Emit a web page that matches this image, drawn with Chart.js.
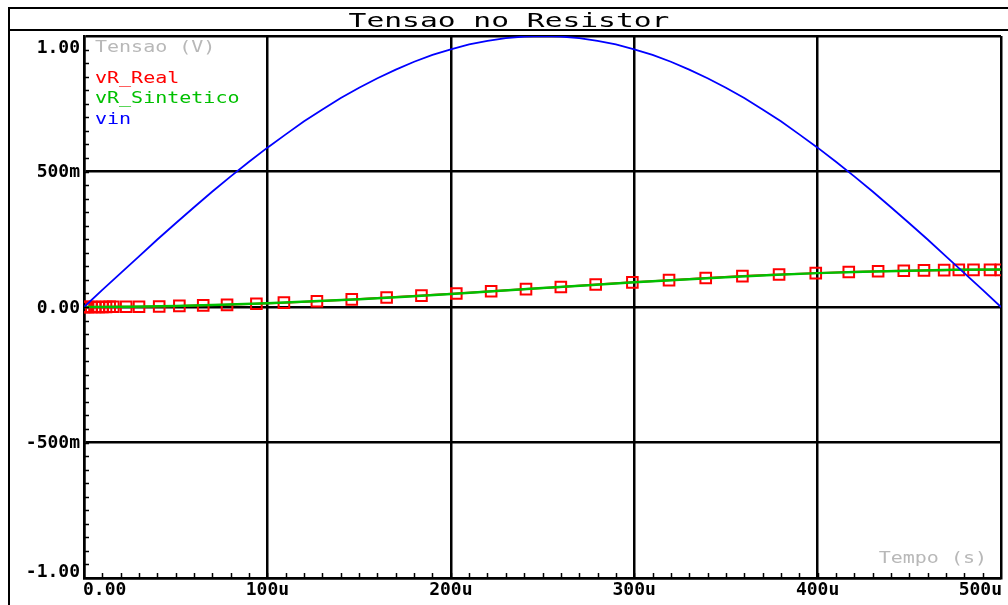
<!DOCTYPE html>
<html>
<head>
<meta charset="utf-8">
<script src="https://cdn.jsdelivr.net/npm/chart.js@4.4.1/dist/chart.umd.min.js"></script>
<style>
  html, body { margin: 0; padding: 0; background: #fff; overflow: hidden; }
  canvas { display: block; }
</style>
</head>
<body>
<canvas id="myChart" width="1008" height="605"></canvas>
<script>
// tempo em microssegundos, tensao em volts
const tRealUs = [0, 1, 2, 4, 6, 8, 10, 12, 14, 16, 23, 30, 41, 52, 65, 78, 94, 109,
    127, 146, 165, 184, 203, 222, 241, 260, 279, 299, 319, 339, 359, 379, 399,
    417, 433, 447, 458, 469, 477, 485, 494, 500];
const vRealV = [0, 0, 0, 0, 0, 0, 0, 0, 0.001, 0.001, 0.001, 0.001, 0.002, 0.004, 0.006, 0.008, 0.012, 0.016,
    0.021, 0.028, 0.035, 0.042, 0.050, 0.058, 0.066, 0.074, 0.083, 0.091, 0.099, 0.107, 0.114, 0.120, 0.125,
    0.129, 0.132, 0.134, 0.135, 0.136, 0.137, 0.137, 0.137, 0.137];

const tSintUs = [0, 25, 50, 75, 100, 125, 150, 175, 200, 225, 250, 275, 300, 325, 350, 375, 400, 425, 450, 475, 500];
const vSintV = [0, 0.001, 0.004, 0.008, 0.014, 0.021, 0.029, 0.038, 0.048, 0.059, 0.070,
    0.080, 0.091, 0.101, 0.110, 0.118, 0.125, 0.130, 0.134, 0.137, 0.138];

const tVinUs = [0, 10, 20, 30, 40, 50, 60, 70, 80, 90, 100, 110, 120, 130, 140, 150, 160, 170, 180, 190,
    200, 210, 220, 230, 240, 250, 260, 270, 280, 290, 300, 310, 320, 330, 340, 350, 360, 370, 380, 390,
    400, 410, 420, 430, 440, 450, 460, 470, 480, 490, 500];
const vinV = [0, 0.063, 0.125, 0.187, 0.249, 0.309, 0.368, 0.426, 0.482, 0.536, 0.588, 0.637, 0.685, 0.729, 0.771,
    0.809, 0.844, 0.876, 0.905, 0.930, 0.951, 0.969, 0.982, 0.992, 0.998, 1.000,
    0.998, 0.992, 0.982, 0.969, 0.951, 0.930, 0.905, 0.876, 0.844, 0.809, 0.771, 0.729, 0.685, 0.637,
    0.588, 0.536, 0.482, 0.426, 0.368, 0.309, 0.249, 0.187, 0.125, 0.063, 0];

const xTicks = [0, 100, 200, 300, 400, 500];
const xTickLabels = ['0.00', '100u', '200u', '300u', '400u', '500u'];
const yTicks = [1, 0.5, 0, -0.5, -1];
const yTickLabels = ['1.00', '500m', '0.00', '-500m', '-1.00'];

const legendNames = ['vR_Real', 'vR_Sintetico', 'vin'];
const legendColors = ['#ff0000', '#00c000', '#0000ff'];

const pts = (xs, ys) => xs.map((x, i) => ({ x: x, y: ys[i] }));

const MONO = '"DejaVu Sans Mono", "Liberation Mono", monospace';

const probePlugin = {
    id: 'probe',
    beforeDraw(chart) {
        const c = chart.ctx;
        c.save();
        c.fillStyle = '#fff';
        c.fillRect(0, 0, chart.width, chart.height);
        // moldura externa e faixa do titulo
        c.strokeStyle = '#000';
        c.lineWidth = 2;
        c.beginPath();
        c.moveTo(9, 610);
        c.lineTo(9, 8);
        c.lineTo(1010, 8);
        c.moveTo(9, 30);
        c.lineTo(1010, 30);
        c.stroke();
        // titulo
        c.fillStyle = '#000';
        c.font = '20px ' + MONO;
        c.textAlign = 'center';
        c.textBaseline = 'alphabetic';
        c.translate(509, 27);
        c.scale(1.48, 1);
        c.fillText('Tensao no Resistor', 0, 0);
        c.restore();
    },
    afterDraw(chart) {
        const c = chart.ctx;
        const xs = chart.scales.x, ys = chart.scales.y;
        const a = chart.chartArea;
        c.save();
        // marcas menores
        c.strokeStyle = '#000';
        c.lineWidth = 1.5;
        c.beginPath();
        for (let v = 10; v < 500; v += 10) {
            const px = Math.round(xs.getPixelForValue(v)) + 0.5;
            c.moveTo(px, a.bottom);
            c.lineTo(px, a.bottom - 5);
        }
        for (let k = -19; k < 20; k++) {
            const py = Math.round(ys.getPixelForValue(k * 0.05)) + 0.5;
            c.moveTo(a.left, py);
            c.lineTo(a.left + 5, py);
        }
        c.stroke();

        // rotulos dos eixos
        c.fillStyle = '#000';
        c.font = 'bold 18px ' + MONO;
        c.textBaseline = 'middle';
        xTicks.forEach((v, i) => {
            const px = xs.getPixelForValue(v);
            if (i === 0) { c.textAlign = 'left'; c.fillText(xTickLabels[i], px - 1, 590); }
            else if (i === xTicks.length - 1) { c.textAlign = 'right'; c.fillText(xTickLabels[i], px + 1, 590); }
            else { c.textAlign = 'center'; c.fillText(xTickLabels[i], px, 590); }
        });
        c.textAlign = 'right';
        yTicks.forEach((v, i) => {
            let py = ys.getPixelForValue(v) + 1;
            if (i === 0) py += 11;
            if (i === yTicks.length - 1) py -= 7;
            c.fillText(yTickLabels[i], 80, py);
        });

        // legenda
        c.font = '16px ' + MONO;
        c.textAlign = 'left';
        c.textBaseline = 'alphabetic';
        const drawWide = (txt, x, y, col) => {
            c.save();
            c.fillStyle = col;
            c.translate(x, y);
            c.scale(1.25, 1);
            c.fillText(txt, 0, 0);
            c.restore();
        };
        drawWide('Tensao (V)', 95, 52, '#b8b8b8');
        const base = [83, 103, 124];
        legendNames.forEach((n, i) => drawWide(n, 95, base[i], legendColors[i]));
        c.textAlign = 'right';
        c.save();
        c.fillStyle = '#b8b8b8';
        c.translate(987, 563);
        c.scale(1.25, 1);
        c.fillText('Tempo (s)', 0, 0);
        c.restore();
        c.restore();
    }
};

new Chart(document.getElementById('myChart'), {
    type: 'line',
    data: {
        datasets: [
            {
                label: legendNames[0],
                data: pts(tRealUs, vRealV),
                borderColor: legendColors[0],
                borderWidth: 2,
                pointStyle: 'rect',
                pointRadius: 7.5,
                pointBorderWidth: 2,
                pointBorderColor: legendColors[0],
                pointBackgroundColor: 'rgba(0,0,0,0)',
                order: 3
            },
            {
                label: legendNames[1],
                data: pts(tSintUs, vSintV),
                borderColor: legendColors[1],
                borderWidth: 2.5,
                pointRadius: 0,
                order: 2
            },
            {
                label: legendNames[2],
                data: pts(tVinUs, vinV),
                borderColor: legendColors[2],
                borderWidth: 1.8,
                pointRadius: 0,
                order: 1
            }
        ]
    },
    options: {
        responsive: false,
        animation: false,
        events: [],
        layout: { autoPadding: false, padding: { left: 84, top: 36, right: 7, bottom: 27 } },
        elements: { line: { tension: 0 } },
        plugins: {
            legend: { display: false },
            tooltip: { enabled: false },
            title: { display: false }
        },
        scales: {
            x: {
                type: 'linear',
                min: 0,
                max: 500,
                afterBuildTicks: (s) => { s.ticks = xTicks.map(v => ({ value: v })); },
                ticks: { display: false },
                grid: { color: '#000', lineWidth: 2.5, drawTicks: false },
                border: { display: true, color: '#000', width: 2.5 }
            },
            y: {
                type: 'linear',
                min: -1,
                max: 1,
                afterBuildTicks: (s) => { s.ticks = yTicks.map(v => ({ value: v })); },
                ticks: { display: false },
                grid: { color: '#000', lineWidth: 2.5, drawTicks: false },
                border: { display: true, color: '#000', width: 2.5 }
            }
        }
    },
    plugins: [probePlugin]
});
</script>
</body>
</html>
